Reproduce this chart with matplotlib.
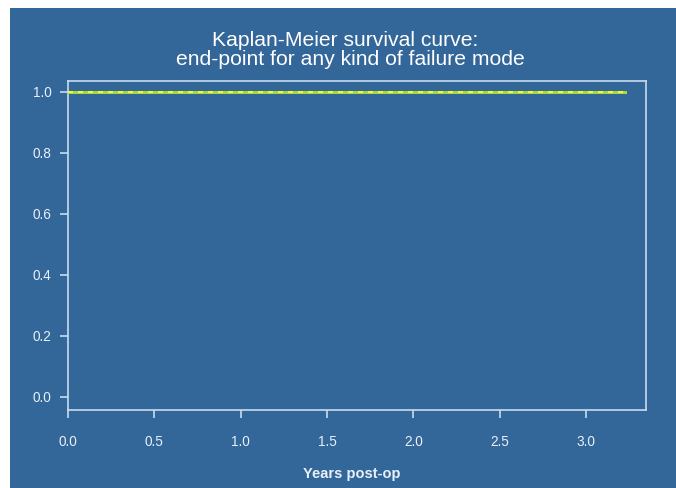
import matplotlib
matplotlib.use("Agg")
import matplotlib.pyplot as plt
from matplotlib.patches import Rectangle

# Data
time_years = [0.0, 3.225]
survival = [1.0, 1.0]
x_ticks = [0.0, 0.5, 1.0, 1.5, 2.0, 2.5, 3.0]
y_ticks = [0.0, 0.2, 0.4, 0.6, 0.8, 1.0]
title_lines = ["Kaplan-Meier survival curve:", "end-point for any kind of failure mode"]
xlabel = "Years post-op"

bg = "#336699"
fg = "#c8dcf0"
plt.rcParams['font.family'] = ['Liberation Sans', 'DejaVu Sans']

fig = plt.figure(figsize=(6.76, 4.88), dpi=100, facecolor="white")
fig.patches.append(Rectangle((10/676, 0), 1 - 10/676, 1 - 8/488,
                             transform=fig.transFigure, facecolor=bg,
                             edgecolor="none", zorder=-10))

ax = fig.add_axes([68/676, 1 - 410/488, (646-68)/676, (410-81)/488])
ax.set_facecolor(bg)
ax.set_xlim(0, 3.347)
ax.set_ylim(-0.043, 1.036)

ax.step(time_years, survival, where="post", color="#a8d840", lw=2.2, zorder=3)
ax.step(time_years, survival, where="post", color="#ffff40", lw=1.2,
        linestyle=(0, (3, 3)), zorder=4)

for s in ax.spines.values():
    s.set_color(fg)
    s.set_linewidth(1.2)

ax.set_xticks(x_ticks)
ax.set_xticklabels([f"{v:.1f}" for v in x_ticks])
ax.set_yticks(y_ticks)
ax.set_yticklabels([f"{v:.1f}" for v in y_ticks])
ax.tick_params(axis="both", direction="out", length=6, width=1.2,
               colors=fg, labelsize=9.8)
ax.tick_params(axis="x", pad=12)
ax.tick_params(axis="y", pad=6)
for lbl in ax.get_xticklabels() + ax.get_yticklabels():
    lbl.set_color("#e8f0f8")

fig.text(345/676, 1 - 46/488, title_lines[0], ha="center", va="baseline",
         color="white", fontsize=15.2)
fig.text(350/676, 1 - 65/488, title_lines[1], ha="center", va="baseline",
         color="white", fontsize=15.2)
fig.text(352/676, 1 - 478/488, xlabel, ha="center", va="baseline",
         color="#e8f0f8", fontsize=10.5, fontweight="bold")

fig.savefig("out.png", dpi=100, facecolor="white")
